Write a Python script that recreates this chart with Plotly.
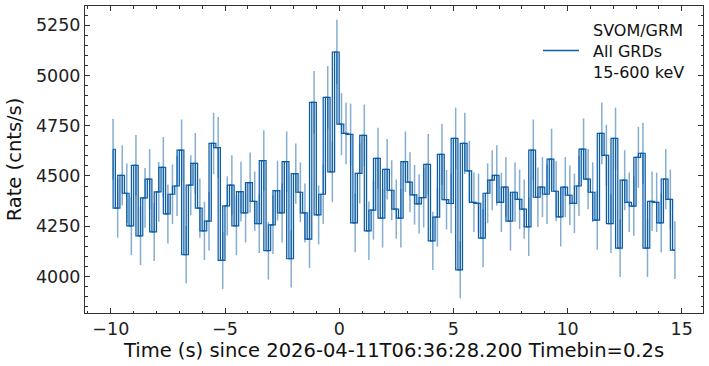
import numpy as np
import plotly.graph_objects as go

# bin centres (0.2 s bins)
dt = 0.2
t = np.round(np.arange(124) * dt - 9.9, 1)

rate = [4633, 4340, 4503, 4414, 4252, 4553, 4202, 4391, 4484, 4222,
        4421, 4543, 4311, 4409, 4450, 4629, 4108, 4454, 4563, 4340,
        4227, 4275, 4662, 4641, 4080, 4351, 4454, 4252, 4422, 4316,
        4467, 4374, 4263, 4576, 4128, 4257, 4427, 4316, 4571, 4088,
        4512, 4419, 4316, 4186, 4866, 4306, 4409, 4891, 4520, 5117,
        4758, 4712, 4707, 4267, 4513, 4702, 4227, 4330, 4588, 4290,
        4533, 4429, 4335, 4290, 4571, 4469, 4406, 4361, 4392, 4558,
        4177, 4295, 4608, 4382, 4363, 4687, 4033, 4662, 4525, 4369,
        4364, 4191, 4414, 4479, 4503, 4369, 4445, 4275, 4419, 4384,
        4335, 4247, 4629, 4394, 4445, 4409, 4584, 4424, 4296, 4445,
        4404, 4364, 4450, 4634, 4484, 4419, 4280, 4712, 4603, 4263,
        4687, 4141, 4479, 4369, 4350, 4593, 4613, 4141, 4374, 4369,
        4267, 4484, 4384, 4131]
rate = np.array(rate, dtype=float)
# Poisson error of counts in each bin, expressed as rate
err = np.sqrt(rate * dt) / dt

xticks = [-10, -5, 0, 5, 10, 15]
xticktext = ["\u221210", "\u22125", "0", "5", "10", "15"]
yticks = [4000, 4250, 4500, 4750, 5000, 5250]
legend_lines = ["SVOM/GRM", "All GRDs", "15-600 keV"]

BLUE = "#0C5DA5"
FONT = "DejaVu Sans"
AX = "#333333"

fig = go.Figure()

fig.add_trace(go.Scatter(
    x=t, y=rate, mode="markers",
    marker=dict(size=1, color="rgba(0,0,0,0)"),
    error_y=dict(type="data", array=err, color="rgba(12,93,165,0.5)",
                 thickness=1.5, width=0),
    showlegend=False, hoverinfo="skip"))

fig.add_trace(go.Scatter(
    x=t, y=rate, mode="lines", line=dict(color=BLUE, width=1.2, shape="vh"),
    showlegend=False))

fig.add_trace(go.Scatter(
    x=t, y=rate, mode="lines", line=dict(color=BLUE, width=1.2, shape="hvh"),
    fill="tonexty", fillcolor="rgba(12,93,165,0.15)", showlegend=False))

axis_common = dict(
    showgrid=False, zeroline=False, showline=True, linecolor=AX,
    linewidth=1, mirror="allticks", ticks="inside", ticklen=5, tickwidth=1,
    tickcolor=AX, tickfont=dict(family=FONT, size=17.5, color="#222222"),
    automargin=False,
)

fig.update_xaxes(
    **axis_common, range=[-11.13, 15.93], tickvals=xticks, ticktext=xticktext,
    minor=dict(ticks="inside", ticklen=2.5, dtick=1, tick0=0, showgrid=False,
               tickcolor=AX),
    title=dict(text="Time (s) since 2026-04-11T06:36:28.200 Timebin=0.2s",
               font=dict(family=FONT, size=19.5, color="#111111"), standoff=5),
)
fig.update_yaxes(
    **axis_common, range=[3818, 5346], tickvals=yticks,
    minor=dict(ticks="inside", ticklen=2.5, dtick=50, tick0=0, showgrid=False,
               tickcolor=AX),
    title=dict(text="Rate (cnts/s)", font=dict(family=FONT, size=19.5, color="#111111"),
               standoff=9),
)

fig.update_layout(
    width=709, height=366,
    margin=dict(l=85, r=6, t=6, b=53),
    paper_bgcolor="white", plot_bgcolor="white",
    showlegend=False,
)

# legend: key line + three text lines
fig.add_shape(type="line", xref="paper", yref="paper",
              x0=(543 - 85) / 618, x1=(579 - 85) / 618,
              y0=(313 - 50.5) / 307, y1=(313 - 50.5) / 307,
              line=dict(color=BLUE, width=1.3))
fig.add_annotation(text="<br>".join(legend_lines), xref="paper", yref="paper",
                   x=(590.5 - 85) / 618, y=(313 - 19) / 307,
                   xanchor="left", yanchor="top", align="left",
                   showarrow=False,
                   font=dict(family=FONT, size=16, color="#111111"))

fig.write_html(
    "out.html",
    config={"displayModeBar": False},
    post_script="document.body.style.margin='0';document.body.style.padding='0';",
)
